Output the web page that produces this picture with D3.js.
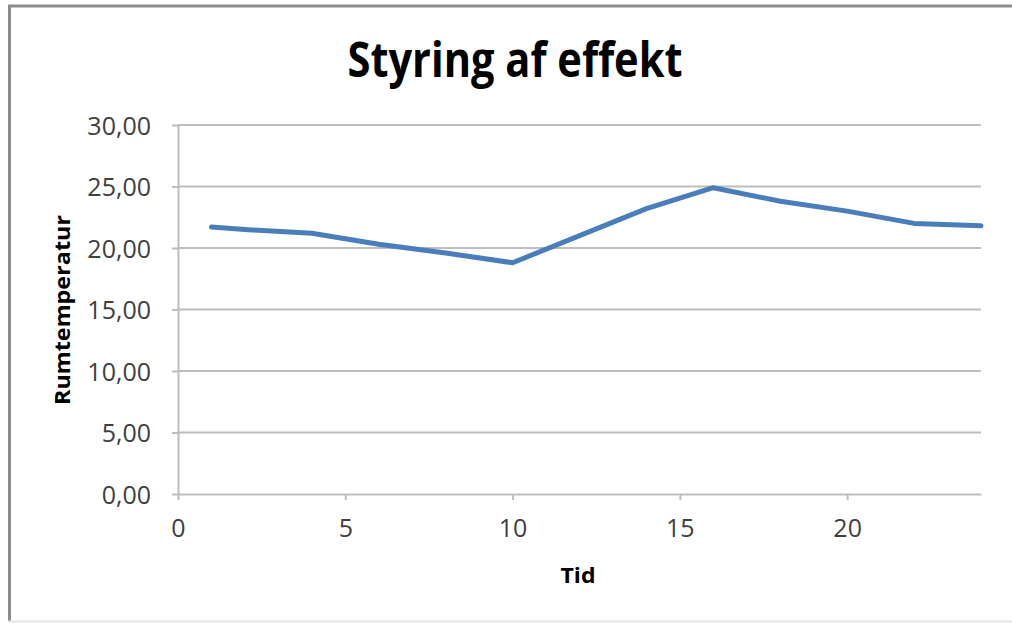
<!DOCTYPE html>
<html>
<head>
<meta charset="utf-8">
<script src="https://cdn.jsdelivr.net/npm/d3@7"></script>
<style>
  html, body { margin: 0; padding: 0; background: #fff; }
  svg { display: block; }
  text { font-family: "Open Sans", "Noto Sans", sans-serif; }
</style>
</head>
<body>
<svg id="chart" width="1012" height="623"></svg>
<script>
// Room temperature over the day (hours)
const tid = [1, 2, 4, 6, 8, 10, 14, 16, 18, 20, 22, 24];
const rumtemperatur = [21.7, 21.5, 21.2, 20.3, 19.6, 18.8, 23.2, 24.9, 23.8, 23.0, 22.0, 21.8];

const xTicks = [0, 5, 10, 15, 20];
const yTicks = [0, 5, 10, 15, 20, 25, 30];

const title = "Styring af effekt";
const xTitle = "Tid";
const yTitle = "Rumtemperatur";

const W = 1012, H = 623;
const plot = { left: 178, right: 981, top: 125, bottom: 494 };

const svg = d3.select("#chart");

// chart frame
svg.append("rect").attr("x", 0).attr("y", 0).attr("width", W).attr("height", H).attr("fill", "#fff");
svg.append("line").attr("x1", 9.5).attr("x2", 9.5).attr("y1", 5).attr("y2", 621)
  .attr("stroke", "#8c8c8c").attr("stroke-width", 3);
svg.append("line").attr("x1", 8).attr("x2", W).attr("y1", 6).attr("y2", 6)
  .attr("stroke", "#8c8c8c").attr("stroke-width", 3);
svg.append("line").attr("x1", 8).attr("x2", W).attr("y1", 621.5).attr("y2", 621.5)
  .attr("stroke", "#e3e3e3").attr("stroke-width", 2);

const x = d3.scaleLinear().domain([0, 24]).range([plot.left, plot.right]);
const y = d3.scaleLinear().domain([0, 30]).range([plot.bottom, plot.top]);

const fmt = v => d3.format(".2f")(v).replace(".", ",");
const gridColor = "#bdbdbd";

// horizontal gridlines
svg.append("g")
  .selectAll("line")
  .data(yTicks.filter(d => d > 0))
  .join("line")
  .attr("x1", plot.left).attr("x2", plot.right)
  .attr("y1", d => y(d)).attr("y2", d => y(d))
  .attr("stroke", gridColor).attr("stroke-width", 2);

// y axis
const yAxis = svg.append("g")
  .attr("transform", `translate(${plot.left},0)`)
  .call(d3.axisLeft(y).tickValues(yTicks).tickFormat(fmt).tickSizeInner(6).tickSizeOuter(0).tickPadding(21));
yAxis.select(".domain").attr("stroke", gridColor).attr("stroke-width", 2);
yAxis.selectAll(".tick line").attr("stroke", gridColor).attr("stroke-width", 2);
yAxis.selectAll(".tick text")
  .style("font-size", "25px").style("font-family", "'Open Sans', sans-serif")
  .attr("fill", "#404040")
  .attr("dy", "0.36em");

// x axis
const xAxis = svg.append("g")
  .attr("transform", `translate(0,${plot.bottom})`)
  .call(d3.axisBottom(x).tickValues(xTicks).tickFormat(d3.format("d")).tickSizeInner(6).tickSizeOuter(0).tickPadding(19));
xAxis.select(".domain").attr("stroke", gridColor).attr("stroke-width", 2);
xAxis.selectAll(".tick line").attr("stroke", gridColor).attr("stroke-width", 2);
xAxis.selectAll(".tick text")
  .style("font-size", "25px").style("font-family", "'Open Sans', sans-serif")
  .attr("fill", "#404040");

// data line
const line = d3.line().x((d, i) => x(tid[i])).y(d => y(d));
svg.append("path")
  .datum(rumtemperatur)
  .attr("d", line)
  .attr("fill", "none")
  .attr("stroke", "#4a7ebb")
  .attr("stroke-width", 5)
  .attr("stroke-linejoin", "round")
  .attr("stroke-linecap", "round");

// titles
svg.append("text")
  .attr("x", 515).attr("y", 77)
  .attr("text-anchor", "middle")
  .attr("font-size", 48).attr("font-weight", "bold").attr("fill", "#000")
  .attr("textLength", 335).attr("lengthAdjust", "spacingAndGlyphs")
  .text(title);

svg.append("text")
  .attr("x", 578).attr("y", 583)
  .attr("text-anchor", "middle")
  .attr("font-size", 22).attr("font-weight", "bold").attr("fill", "#000")
  .attr("textLength", 35).attr("lengthAdjust", "spacingAndGlyphs")
  .text(xTitle);

svg.append("text")
  .attr("transform", `translate(70,310) rotate(-90)`)
  .attr("text-anchor", "middle")
  .attr("font-size", 22).attr("font-weight", "bold").attr("fill", "#000")
  .attr("textLength", 190).attr("lengthAdjust", "spacingAndGlyphs")
  .text(yTitle);
</script>
</body>
</html>
